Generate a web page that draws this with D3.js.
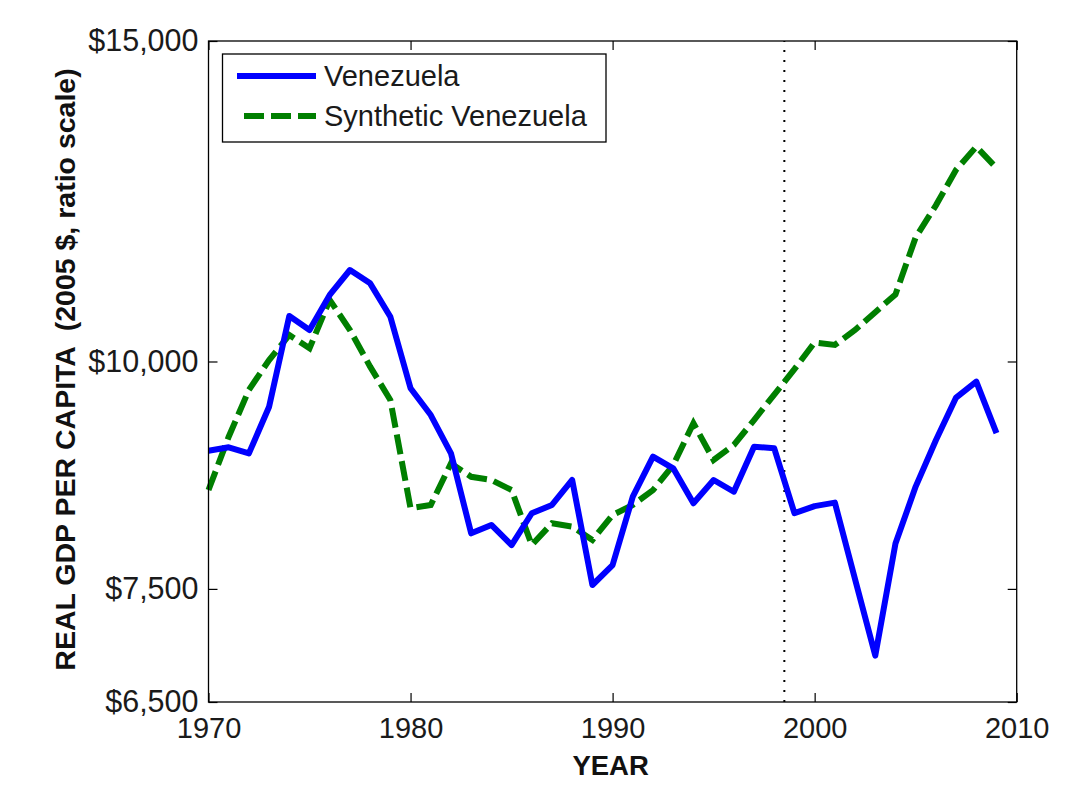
<!DOCTYPE html>
<html>
<head>
<meta charset="utf-8">
<script src="https://cdn.jsdelivr.net/npm/d3@7"></script>
<style>
  html, body { margin: 0; padding: 0; background: #fff; }
  svg { display: block; }
  text { font-family: "Liberation Sans", Arial, sans-serif; }
</style>
</head>
<body>
<svg id="chart" width="1080" height="805"></svg>
<script>
// ---- data ----
const years = d3.range(1970, 2010); // 1970..2009
const venezuela = [8933, 8971, 8903, 9444, 10593, 10407, 10878, 11227, 11039, 10583,
                   9667, 9345, 8903, 8046, 8132, 7928, 8253, 8340, 8608, 7537,
                   7730, 8428, 8865, 8736, 8358, 8608, 8481, 8978, 8960, 8254,
                   8328, 8365, 7593, 6893, 7943, 8536, 9051, 9554, 9749, 9133];
const synthetic = [8499, 9092, 9646, 10019, 10341, 10169, 10810, 10407, 9935, 9524,
                   8305, 8340, 8791, 8643, 8608, 8499, 7928, 8149, 8114, 7979,
                   8235, 8340, 8499, 8772, 9248, 8828, 8998, 9286, 9590, 9904,
                   10244, 10212, 10407, 10643, 10886, 11700, 12184, 12745, 13123, 12774];
const xTicks = [1970, 1980, 1990, 2000, 2010];
const yTicks = [6500, 7500, 10000, 15000];
const treatmentYear = 1998.5;
const seriesNames = ["Venezuela", "Synthetic Venezuela"];
const xLabel = "YEAR";
const yLabel = "REAL GDP PER CAPITA  (2005 $, ratio scale)";

// ---- layout ----
const L = 208.5, R = 1016.7, T = 41, B = 702;
const svg = d3.select("#chart");
svg.append("rect").attr("width", 1080).attr("height", 805).attr("fill", "#fff");

const x = d3.scaleLinear().domain([1970, 2010]).range([L, R]);
const y = d3.scaleLog().domain([6500, 15000]).range([B, T]);
const fmt = d => "$" + d3.format(",")(d);

const tickLen = 9;

function styleAxis(g, showLabels, fs) {
  g.select(".domain").remove();
  g.selectAll(".tick line").attr("stroke", "#000").attr("stroke-width", 1.2);
  g.selectAll(".tick text")
    .attr("font-size", fs)
    .attr("fill", "#1a1a1a")
    .attr("font-family", "'Liberation Sans', Arial, sans-serif");
  if (!showLabels) g.selectAll(".tick text").remove();
}

// bottom axis
svg.append("g").attr("transform", `translate(0,${B})`)
  .call(d3.axisBottom(x).tickValues(xTicks).tickFormat(d3.format("d"))
        .tickSizeInner(-tickLen).tickSizeOuter(0).tickPadding(15))
  .call(g => styleAxis(g, true, 29));
// top axis
svg.append("g").attr("transform", `translate(0,${T})`)
  .call(d3.axisTop(x).tickValues(xTicks).tickSizeInner(-tickLen).tickSizeOuter(0))
  .call(g => styleAxis(g, false, 29));
// left axis
svg.append("g").attr("transform", `translate(${L},0)`)
  .call(d3.axisLeft(y).tickValues(yTicks).tickFormat(fmt)
        .tickSizeInner(-tickLen).tickSizeOuter(0).tickPadding(10))
  .call(g => styleAxis(g, true, 30.5));
// right axis
svg.append("g").attr("transform", `translate(${R},0)`)
  .call(d3.axisRight(y).tickValues(yTicks).tickSizeInner(-tickLen).tickSizeOuter(0))
  .call(g => styleAxis(g, false, 29));

// dotted treatment line
svg.append("line")
  .attr("x1", x(treatmentYear)).attr("x2", x(treatmentYear))
  .attr("y1", y(6500)).attr("y2", y(15000))
  .attr("stroke", "#000").attr("stroke-width", 2)
  .attr("stroke-dasharray", "2,8");

// series lines
const line = d3.line().x((d, i) => x(years[i])).y(d => y(d));
svg.append("path").datum(synthetic)
  .attr("d", line).attr("fill", "none")
  .attr("stroke", "#007f00").attr("stroke-width", 6)
  .attr("stroke-dasharray", "20,7");
svg.append("path").datum(venezuela)
  .attr("d", line).attr("fill", "none")
  .attr("stroke", "#0000ff").attr("stroke-width", 6)
  .attr("stroke-linejoin", "round");

// frame
svg.append("rect")
  .attr("x", L).attr("y", T).attr("width", R - L).attr("height", B - T)
  .attr("fill", "none").attr("stroke", "#000").attr("stroke-width", 1.3);

// legend
const lg = svg.append("g");
lg.append("rect").attr("x", 222.5).attr("y", 54).attr("width", 383.5).attr("height", 88)
  .attr("fill", "#fff").attr("stroke", "#000").attr("stroke-width", 1.3);
const legendRows = [
  { name: seriesNames[0], color: "#0000ff", dash: null, y: 76 },
  { name: seriesNames[1], color: "#007f00", dash: "20,7", y: 116 }
];
legendRows.forEach(r => {
  lg.append("line").attr("x1", r.dash ? 244 : 237).attr("x2", 316)
    .attr("y1", r.y).attr("y2", r.y)
    .attr("stroke", r.color).attr("stroke-width", 6)
    .attr("stroke-dasharray", r.dash);
  lg.append("text").attr("x", 324).attr("y", r.y).attr("dy", "0.36em")
    .attr("font-size", 29).attr("fill", "#1a1a1a").text(r.name);
});

// axis labels
svg.append("text").attr("x", (L + R) / 2 - 2).attr("y", 775)
  .attr("text-anchor", "middle").attr("font-weight", "bold")
  .attr("font-size", 27.5).attr("fill", "#111").text(xLabel);
svg.append("text")
  .attr("transform", `translate(75,${(T + B) / 2 - 2}) rotate(-90)`)
  .attr("text-anchor", "middle").attr("font-weight", "bold")
  .attr("font-size", 28.5).attr("fill", "#111").attr("xml:space", "preserve")
  .style("white-space", "pre").text(yLabel);
</script>
</body>
</html>
